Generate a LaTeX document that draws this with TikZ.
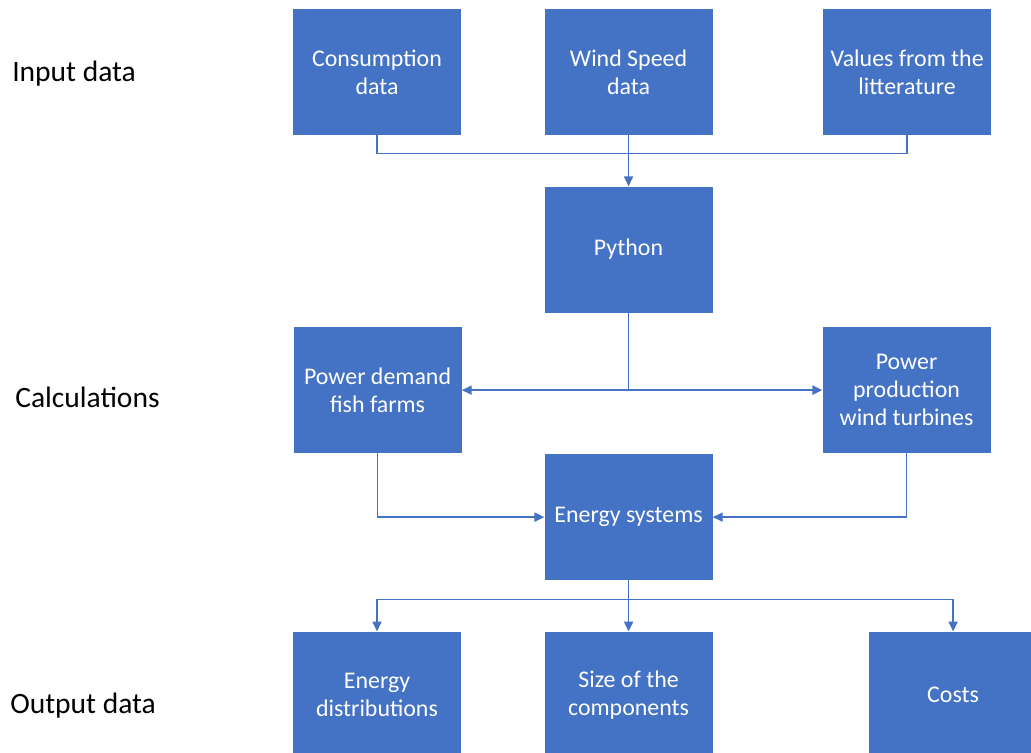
\documentclass[tikz,border=0pt]{standalone}
\usepackage{fontspec}
\setmainfont{Carlito}
\usepackage{tikz}
\usetikzlibrary{positioning, arrows.meta}
\definecolor{officeblue}{HTML}{4472C4}
\tikzstyle{box} = [rectangle, fill=officeblue, text=white, minimum width=4.2cm, minimum height=3.15cm, inner sep=0pt, align=center, font=\fontsize{17}{20}\selectfont]
\tikzstyle{arrow} = [officeblue, line width=1pt, -{Triangle[length=7pt, width=6.5pt]}]
\tikzstyle{line} = [officeblue, line width=1pt]
\tikzstyle{textlabel} = [anchor=west, inner sep=0pt, font=\fontsize{21}{25}\selectfont]

\begin{document}
\begin{tikzpicture}
  \useasboundingbox (0,0) rectangle (25.775,-18.825);

  % Input data
  \node (cons) [box] at (9.425,-1.8) {Consumption\\data};
  \node (wind) [box, right=2.075cm of cons] {Wind Speed\\data};
  \node (values) [box, right=2.75cm of wind] {Values from the\\litterature};

  % Calculations
  \node (python) [box, below=1.275cm of wind] {Python};
  \node (demand) [box, below=0.35cm of python, xshift=-6.275cm] {Power demand\\fish farms};
  \node (production) [box, below=0.35cm of python, xshift=6.95cm] {Power\\production\\wind turbines};
  \node (energy) [box, below=3.525cm of python] {Energy systems};

  % Output data
  \node (size) [box, below=1.275cm of energy] {Size of the\\components};
  \node (distr) [box, left=2.075cm of size] {Energy\\distributions};
  \node (costs) [box, right=3.9cm of size] {Costs};

  % Arrows
  \draw[line] (cons.south) -- ([yshift=-0.45cm]cons.south) -| (values.south);
  \draw[arrow] (wind) -- (python);
  \draw[arrow] (python.south) |- (demand.east);
  \draw[arrow] (python.south) |- (production.west);
  \draw[arrow] (demand.south) |- (energy.west);
  \draw[arrow] (production.south) |- (energy.east);
  \draw[arrow] (energy.south) -- ([yshift=-0.475cm]energy.south) -| (distr.north);
  \draw[arrow] (energy.south) -- ([yshift=-0.475cm]energy.south) -| (costs.north);
  \draw[arrow] (energy) -- (size);

  % Side labels
  \node (inlabel) [textlabel] at (0.3,-1.85) {Input data};
  \node (calclabel) [textlabel] at (0.375,-9.925) {Calculations};
  \node (outlabel) [textlabel] at (0.25,-17.65) {Output data};

\end{tikzpicture}
\end{document}
